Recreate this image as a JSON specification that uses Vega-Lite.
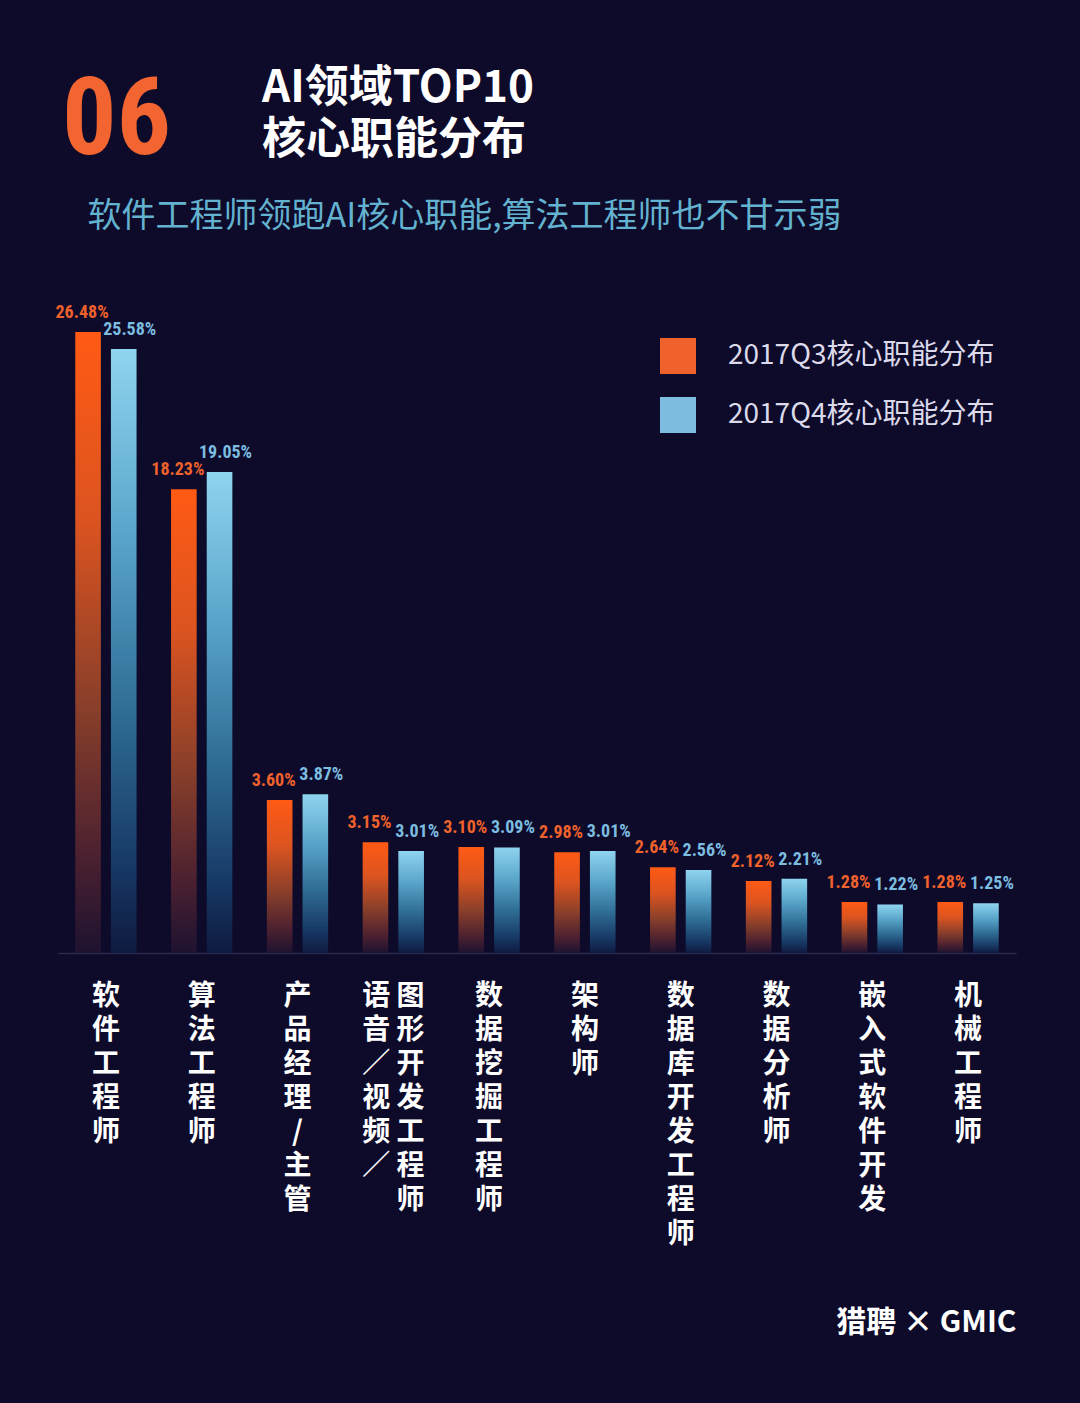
{
  "$schema": "https://vega.github.io/schema/vega-lite/v6.json",
  "width": 958,
  "height": 700,
  "autosize": {"type": "none"},
  "padding": {"left": 58, "top": 253, "right": 64, "bottom": 450},
  "background": "#0d0a2a",
  "config": {"view": {"stroke": null}, "font": "Noto Sans CJK SC"},
  "title": {
    "text": ["AI领域TOP10", "核心职能分布"],
    "anchor": "start",
    "frame": "group",
    "dx": 204,
    "offset": -96,
    "font": "Noto Sans CJK SC",
    "fontSize": 44,
    "fontWeight": "bold",
    "color": "#ffffff",
    "lineHeight": 52
  },
  "data": {
    "values": [
      {"role": "软件工程师", "series": "2017Q3核心职能分布", "value": 0.2648},
      {"role": "软件工程师", "series": "2017Q4核心职能分布", "value": 0.2558},
      {"role": "算法工程师", "series": "2017Q3核心职能分布", "value": 0.1823},
      {"role": "算法工程师", "series": "2017Q4核心职能分布", "value": 0.1905},
      {"role": "产品经理/主管", "series": "2017Q3核心职能分布", "value": 0.0360},
      {"role": "产品经理/主管", "series": "2017Q4核心职能分布", "value": 0.0387},
      {"role": "语音/视频/图形开发工程师", "series": "2017Q3核心职能分布", "value": 0.0315},
      {"role": "语音/视频/图形开发工程师", "series": "2017Q4核心职能分布", "value": 0.0301},
      {"role": "数据挖掘工程师", "series": "2017Q3核心职能分布", "value": 0.0310},
      {"role": "数据挖掘工程师", "series": "2017Q4核心职能分布", "value": 0.0309},
      {"role": "架构师", "series": "2017Q3核心职能分布", "value": 0.0298},
      {"role": "架构师", "series": "2017Q4核心职能分布", "value": 0.0301},
      {"role": "数据库开发工程师", "series": "2017Q3核心职能分布", "value": 0.0264},
      {"role": "数据库开发工程师", "series": "2017Q4核心职能分布", "value": 0.0256},
      {"role": "数据分析师", "series": "2017Q3核心职能分布", "value": 0.0212},
      {"role": "数据分析师", "series": "2017Q4核心职能分布", "value": 0.0221},
      {"role": "嵌入式软件开发", "series": "2017Q3核心职能分布", "value": 0.0128},
      {"role": "嵌入式软件开发", "series": "2017Q4核心职能分布", "value": 0.0122},
      {"role": "机械工程师", "series": "2017Q3核心职能分布", "value": 0.0128},
      {"role": "机械工程师", "series": "2017Q4核心职能分布", "value": 0.0125}
    ]
  },
  "encoding": {
    "x": {
      "field": "role",
      "type": "nominal",
      "sort": null,
      "scale": {"paddingInner": 0.36, "paddingOuter": 0.18},
      "axis": {
        "title": "猎聘  ×  GMIC",
        "titleX": 958,
        "titleY": 369,
        "titleAlign": "right",
        "titleAnchor": null,
        "titleBaseline": "middle",
        "titleColor": "#ffffff",
        "titleFont": "Noto Sans CJK SC",
        "titleFontSize": 30,
        "titleFontWeight": "bold",
        "labelAngle": 0,
        "labelExpr": "datum.label === '语音/视频/图形开发工程师' ? ['语 图', '音 形', '／ 开', '视 发', '频 工', '／ 程', '\u200b\u3000 师'] : split(datum.label, '')",
        "labelFont": "Noto Sans CJK SC",
        "labelFontSize": 28,
        "labelFontWeight": "bold",
        "labelColor": "#ffffff",
        "labelLineHeight": 34,
        "labelPadding": 29,
        "labelBaseline": "top",
        "labelAlign": "center",
        "labelOverlap": false,
        "labelLimit": 0,
        "labelBound": false,
        "ticks": false,
        "domain": true,
        "domainColor": "#2a2a4e",
        "domainWidth": 1.5,
        "grid": false
      }
    },
    "xOffset": {
      "field": "series",
      "type": "nominal",
      "scale": {"domain": ["2017Q3核心职能分布", "2017Q4核心职能分布"], "paddingInner": 0.282, "paddingOuter": 0}
    },
    "y": {
      "field": "value",
      "type": "quantitative",
      "scale": {
        "domain": [0, 0.0128, 0.026, 0.031, 0.036, 0.19, 0.2648],
        "range": [700, 649, 616, 594, 547, 220, 79]
      },
      "axis": null
    }
  },
  "layer": [
    {
      "transform": [{"filter": "datum.series === '2017Q3核心职能分布'"}],
      "mark": {
        "type": "bar",
        "fill": {
          "gradient": "linear", "x1": 0, "y1": 0, "x2": 0, "y2": 1,
          "stops": [
            {"offset": 0, "color": "#ff5a14"},
            {"offset": 0.3, "color": "#dc5420"},
            {"offset": 0.6, "color": "#8a3f2a"},
            {"offset": 0.85, "color": "#4a2030"},
            {"offset": 1, "color": "#1e1230"}
          ]
        }
      },
      "encoding": {
        "y": {
          "field": "value",
          "type": "quantitative",
          "scale": {
            "domain": [0, 0.0128, 0.026, 0.031, 0.036, 0.19, 0.2648],
            "range": [700, 649, 616, 594, 547, 220, 79]
          },
          "axis": {
            "orient": "left",
            "title": "06",
            "titleX": 58,
            "titleY": -100,
            "titleAngle": 0,
            "titleAlign": "center",
            "titleAnchor": null,
            "titleBaseline": "alphabetic",
            "titleFont": "Roboto Condensed, DejaVu Sans Condensed, Roboto, sans-serif",
            "titleFontSize": 108,
            "titleFontWeight": "bold",
            "titleColor": "#f26430",
            "labels": false,
            "ticks": false,
            "domain": false,
            "grid": false
          }
        }
      }
    },
    {
      "transform": [{"filter": "datum.series === '2017Q4核心职能分布'"}],
      "mark": {
        "type": "bar",
        "fill": {
          "gradient": "linear", "x1": 0, "y1": 0, "x2": 0, "y2": 1,
          "stops": [
            {"offset": 0, "color": "#8fd4ef"},
            {"offset": 0.3, "color": "#5aa6cb"},
            {"offset": 0.6, "color": "#2f6d95"},
            {"offset": 0.85, "color": "#173a66"},
            {"offset": 1, "color": "#0f1a40"}
          ]
        }
      },
      "encoding": {
        "y": {
          "field": "value",
          "type": "quantitative",
          "scale": {
            "domain": [0, 0.0128, 0.026, 0.031, 0.036, 0.19, 0.2648],
            "range": [700, 649, 616, 594, 547, 220, 79]
          },
          "axis": {
            "orient": "right",
            "title": "软件工程师领跑AI核心职能,算法工程师也不甘示弱",
            "titleX": -929,
            "titleY": -37,
            "titleAngle": 0,
            "titleAlign": "left",
            "titleAnchor": null,
            "titleBaseline": "middle",
            "titleFont": "Noto Sans CJK SC",
            "titleFontSize": 34,
            "titleFontWeight": "normal",
            "titleColor": "#63b2cf",
            "labels": false,
            "ticks": false,
            "domain": false,
            "grid": false
          }
        }
      }
    },
    {
      "transform": [{"filter": "datum.series === '2017Q3核心职能分布'"}],
      "mark": {"type": "text", "baseline": "bottom", "dy": -10, "dx": -6, "font": "Roboto Condensed, DejaVu Sans Condensed, Roboto, sans-serif", "fontSize": 18, "fontWeight": "bold"},
      "encoding": {
        "text": {"field": "value", "type": "quantitative", "format": ".2%"},
        "color": {
          "field": "series",
          "type": "nominal",
          "scale": {"domain": ["2017Q3核心职能分布", "2017Q4核心职能分布"], "range": ["#f0622c", "#7cbde0"]},
          "legend": {
            "orient": "none", "legendX": 602, "legendY": 85, "title": null,
            "symbolType": "square", "symbolSize": 1296, "symbolOpacity": 1, "symbolStrokeWidth": 0,
            "labelFont": "Noto Sans CJK SC", "labelFontSize": 28, "labelColor": "#dcdaea",
            "labelOffset": 32, "rowPadding": 23, "padding": 0, "labelLimit": 0
          }
        }
      }
    },
    {
      "transform": [{"filter": "datum.series === '2017Q4核心职能分布'"}],
      "mark": {"type": "text", "baseline": "bottom", "dy": -10, "dx": 6, "font": "Roboto Condensed, DejaVu Sans Condensed, Roboto, sans-serif", "fontSize": 18, "fontWeight": "bold"},
      "encoding": {
        "text": {"field": "value", "type": "quantitative", "format": ".2%"},
        "color": {
          "field": "series",
          "type": "nominal",
          "scale": {"domain": ["2017Q3核心职能分布", "2017Q4核心职能分布"], "range": ["#f0622c", "#7cbde0"]},
          "legend": {
            "orient": "none", "legendX": 602, "legendY": 85, "title": null,
            "symbolType": "square", "symbolSize": 1296, "symbolOpacity": 1, "symbolStrokeWidth": 0,
            "labelFont": "Noto Sans CJK SC", "labelFontSize": 28, "labelColor": "#dcdaea",
            "labelOffset": 32, "rowPadding": 23, "padding": 0, "labelLimit": 0
          }
        }
      }
    }
  ],
  "resolve": {"axis": {"y": "independent"}}
}
